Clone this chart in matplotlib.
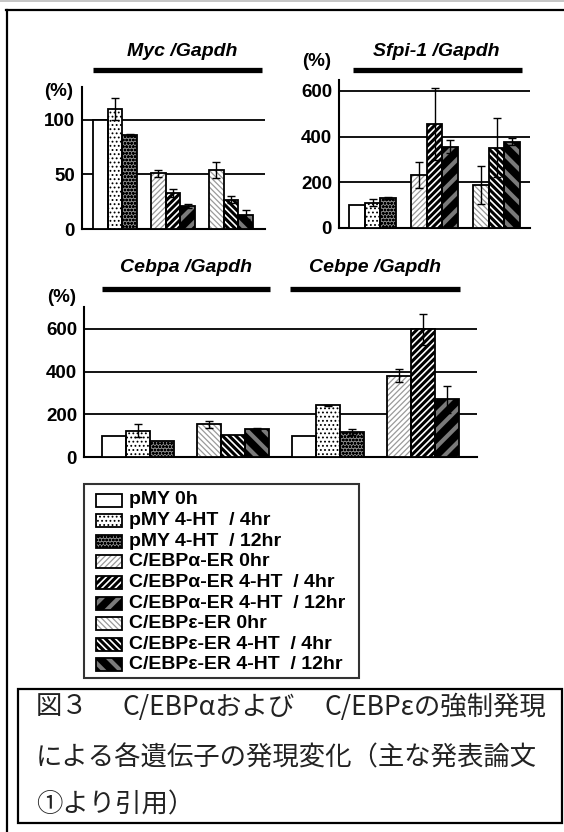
import numpy as np
import matplotlib
matplotlib.use("Agg")
import matplotlib.pyplot as plt
from matplotlib.patches import Rectangle
from matplotlib.lines import Line2D

plt.rcParams['font.family'] = ['Liberation Sans', 'DejaVu Sans']

# ---------------- data ----------------
series_labels = ["pMY 0h", "pMY 4-HT  / 4hr", "pMY 4-HT  / 12hr",
                 "C/EBPα-ER 0hr", "C/EBPα-ER 4-HT  / 4hr", "C/EBPα-ER 4-HT  / 12hr",
                 "C/EBPε-ER 0hr", "C/EBPε-ER 4-HT  / 4hr", "C/EBPε-ER 4-HT  / 12hr"]

# Myc / Gapdh  (groups: pMY, C/EBPa-ER, C/EBPe-ER)
myc_groups = ["pMY", "a", "e"]
myc_vals = [[100, 110, 86], [51, 33, 21], [54, 27, 13]]
myc_errs = [[0, 10, 1], [3, 4, 2], [7, 3, 4]]
myc_ticks = [0, 50, 100]

# Sfpi-1 / Gapdh
sfpi_groups = ["pMY", "a", "e"]
sfpi_vals = [[100, 111, 131], [232, 455, 356], [188, 352, 378]]
sfpi_errs = [[0, 15, 5], [58, 158, 29], [85, 130, 15]]
sfpi_ticks = [0, 200, 400, 600]

# Cebpa / Gapdh (pMY, C/EBPe-ER) and Cebpe / Gapdh (pMY, C/EBPa-ER)
bot_groups = ["pMY", "e", "pMY", "a"]
bot_vals = [[100, 123, 73], [153, 103, 131], [100, 242, 117], [381, 598, 270]]
bot_errs = [[0, 30, 0], [15, 0, 5], [0, 2, 15], [30, 72, 62]]
bot_ticks = [0, 200, 400, 600]

caption_line1 = ["図３", "C/EBPαおよび", "C/EBPεの強制発現"]
caption_line2 = "による各遺伝子の発現変化（主な発表論文"
caption_line3 = "①より引用）"

# ---------------- styles ----------------
# (facecolor, hatch, hatchcolor, hatch linewidth)
STY = {
    "pMY": [("white", None, "black", 1.0),
            ("white", "....", "black", 0.8),
            ("#8a8a8a", "ooooo", "black", 0.8)],
    "a":   [("white", "//////", "#9a9a9a", 0.9),
            ("white", "/////", "black", 2.2),
            ("black", "//", "#7a7a7a", 3.0)],
    "e":   [("white", "\\\\\\\\\\\\", "#9a9a9a", 0.9),
            ("white", "\\\\\\\\\\", "black", 2.2),
            ("black", "\\\\", "#7a7a7a", 3.0)],
}
legend_styles = STY["pMY"] + STY["a"] + STY["e"]

W, H = 564, 832
fig = plt.figure(figsize=(W / 100, H / 100), dpi=100)


def fx(x):
    return x / W


def fy(y):
    return 1 - y / H


def add_ax(left, right, bottom, top):
    return fig.add_axes([fx(left), fy(bottom), (right - left) / W, (bottom - top) / H])


def hatched_patch_set(p, hatch, hcol, hlw):
    p.set_hatch(hatch)
    p.set_edgecolor(hcol)
    if hasattr(p, "set_hatch_linewidth"):
        p.set_hatch_linewidth(hlw)


PERIOD = 3.95


def draw_panel(ax, groups, vals, errs, ticks, xlim, ylim):
    ax.set_xlim(*xlim)
    ax.set_ylim(*ylim)
    for g, (kind, v, e) in enumerate(zip(groups, vals, errs)):
        xs = g * PERIOD + np.arange(3) + 0.5
        for i in range(3):
            fc, hatch, hcol, hlw = STY[kind][i]
            if hatch:
                with plt.rc_context({'hatch.linewidth': hlw, 'hatch.color': hcol}):
                    b = ax.bar(xs[i], v[i], width=1.0, color=fc, edgecolor=hcol,
                               linewidth=0, hatch=hatch, zorder=3)
                for p in b:
                    hatched_patch_set(p, hatch, hcol, hlw)
            else:
                ax.bar(xs[i], v[i], width=1.0, color=fc, linewidth=0, zorder=3)
            ax.bar(xs[i], v[i], width=1.0, fill=False, edgecolor="black",
                   linewidth=1.3, zorder=4)
        ee = np.array(e, dtype=float)
        m = ee > 0
        ax.errorbar(xs[m], np.array(v)[m], yerr=ee[m], fmt="none", ecolor="black",
                    elinewidth=1.0, capsize=3, capthick=1.0, zorder=5)
    for s in ["top", "right"]:
        ax.spines[s].set_visible(False)
    ax.spines["left"].set_linewidth(1.5)
    ax.spines["bottom"].set_linewidth(1.5)
    ax.set_yticks(ticks)
    ax.set_yticklabels([str(t) for t in ticks], fontsize=13.5, fontweight="bold")
    ax.tick_params(axis="y", length=0, pad=5)
    ax.set_xticks([])
    ax.yaxis.grid(True, color="black", linewidth=1.3)
    ax.set_axisbelow(True)
    ax.patch.set_alpha(0)


ax1 = add_ax(82, 265, 229, 87)
draw_panel(ax1, myc_groups, myc_vals, myc_errs, myc_ticks, (-0.75, 11.72), (0, 130))
ax2 = add_ax(339, 530, 228, 80)
draw_panel(ax2, sfpi_groups, sfpi_vals, sfpi_errs, sfpi_ticks, (-0.64, 11.53), (0, 648))
ax3 = add_ax(84, 477, 457, 307)
draw_panel(ax3, bot_groups, bot_vals, bot_errs, bot_ticks, (-0.75, 15.6), (0, 703))

# titles and bars
titles = [("Myc /Gapdh", 182, 51, 93, 262, 70),
          ("Sfpi-1 /Gapdh", 436, 51, 353, 522, 70),
          ("Cebpa /Gapdh", 186, 268, 102, 270, 289),
          ("Cebpe /Gapdh", 375, 268, 290, 460, 289)]
for t, tx, ty, x0, x1, yb in titles:
    fig.text(fx(tx), fy(ty), t, ha="center", va="center", fontsize=14,
             fontweight="bold", style="italic")
    fig.add_artist(Line2D([fx(x0), fx(x1)], [fy(yb), fy(yb)], color="black",
                          linewidth=3.8, solid_capstyle="butt", transform=fig.transFigure))

for px, py in [(59, 92), (317, 62), (62, 297)]:
    fig.text(fx(px), fy(py), "(%)", ha="center", va="center", fontsize=13.5,
             fontweight="bold")

# legend
fig.add_artist(Rectangle((fx(84), fy(678)), (359 - 84) / W, (678 - 484) / H,
                         fill=False, edgecolor="#333333", linewidth=1.5,
                         transform=fig.transFigure))
for i, (lab, (fc, hatch, hcol, hlw)) in enumerate(zip(series_labels, legend_styles)):
    yc = 500 + 20.6 * i
    x0, x1 = 96, 122
    h = 13
    with plt.rc_context({'hatch.linewidth': hlw, 'hatch.color': hcol}):
        r = Rectangle((fx(x0), fy(yc + h / 2)), (x1 - x0) / W, h / H,
                      facecolor=fc, edgecolor=hcol if hatch else "none",
                      linewidth=0, hatch=hatch, transform=fig.transFigure)
    if hatch:
        hatched_patch_set(r, hatch, hcol, hlw)
    fig.add_artist(r)
    fig.add_artist(Rectangle((fx(x0), fy(yc + h / 2)), (x1 - x0) / W, h / H,
                             fill=False, edgecolor="black", linewidth=1.3,
                             transform=fig.transFigure))
    fig.text(fx(129), fy(yc), lab, ha="left", va="center", fontsize=14,
             fontweight="bold")

# caption box
fig.add_artist(Rectangle((fx(18), fy(823)), (562 - 18) / W, (823 - 689) / H,
                         fill=False, edgecolor="black", linewidth=1.6,
                         transform=fig.transFigure))
cap_kw = dict(va="center", fontsize=19, color="#222222",
              family=["Noto Sans CJK JP", "DejaVu Sans"])
fig.text(fx(36), fy(707), caption_line1[0], ha="left", **cap_kw)
fig.text(fx(122), fy(707), caption_line1[1], ha="left", **cap_kw)
fig.text(fx(546), fy(707), caption_line1[2], ha="right", **cap_kw)
fig.text(fx(36), fy(758), caption_line2, ha="left", **cap_kw)
fig.text(fx(36), fy(805), caption_line3, ha="left", **cap_kw)

# outer frame
fig.add_artist(Line2D([fx(6), 1], [fy(10), fy(10)], color="black", linewidth=1.6,
                      transform=fig.transFigure))
fig.add_artist(Line2D([fx(7), fx(7)], [fy(10), 0], color="black", linewidth=1.6,
                      transform=fig.transFigure))
fig.add_artist(Line2D([0, 1], [fy(0.7), fy(0.7)], color="#bbbbbb", linewidth=1.2,
                      transform=fig.transFigure))

fig.savefig("out.png", dpi=100)
